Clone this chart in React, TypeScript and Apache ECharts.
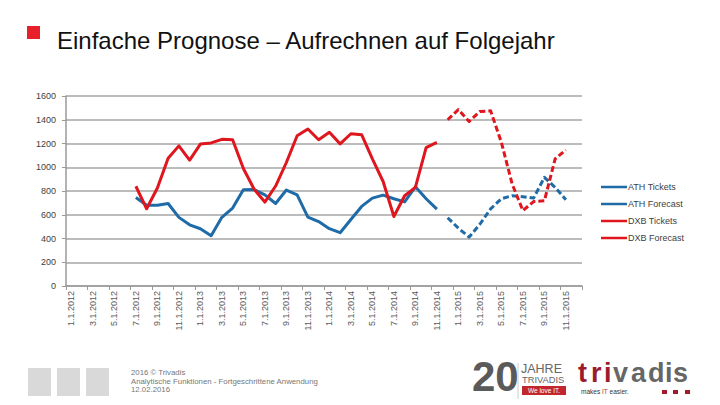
import React, { useEffect, useRef } from "react";
import * as echarts from "echarts";

const categories = [
  "1.1.2012","2.1.2012","3.1.2012","4.1.2012","5.1.2012","6.1.2012","7.1.2012","8.1.2012","9.1.2012","10.1.2012","11.1.2012","12.1.2012",
  "1.1.2013","2.1.2013","3.1.2013","4.1.2013","5.1.2013","6.1.2013","7.1.2013","8.1.2013","9.1.2013","10.1.2013","11.1.2013","12.1.2013",
  "1.1.2014","2.1.2014","3.1.2014","4.1.2014","5.1.2014","6.1.2014","7.1.2014","8.1.2014","9.1.2014","10.1.2014","11.1.2014","12.1.2014",
  "1.1.2015","2.1.2015","3.1.2015","4.1.2015","5.1.2015","6.1.2015","7.1.2015","8.1.2015","9.1.2015","10.1.2015","11.1.2015","12.1.2015",
];

const athTickets = [
  null, null, null, null, null, null, 745, 680, 680, 695, 578, 515,
  482, 423, 578, 656, 810, 812, 768, 695, 808, 768, 580, 543,
  483, 449, 560, 670, 740, 765, 735, 708, 835, 735, 647, null,
  null, null, null, null, null, null, null, null, null, null, null, null,
];

const athForecast = [
  null, null, null, null, null, null, null, null, null, null, null, null,
  null, null, null, null, null, null, null, null, null, null, null, null,
  null, null, null, null, null, null, null, null, null, null, null, 575,
  487, 412, 520, 650, 735, 760, 752, 740, 915, 830, 726, null,
];

const dxbTickets = [
  null, null, null, null, null, null, 840, 650, 825, 1075, 1180, 1060,
  1195, 1205, 1235, 1232, 990, 815, 707, 842, 1040, 1265, 1322, 1232,
  1294, 1197, 1282, 1274, 1070, 880, 585, 760, 830, 1165, 1210, null,
  null, null, null, null, null, null, null, null, null, null, null, null,
];

const dxbForecast = [
  null, null, null, null, null, null, null, null, null, null, null, null,
  null, null, null, null, null, null, null, null, null, null, null, null,
  null, null, null, null, null, null, null, null, null, null, null, 1400,
  1485, 1385, 1470, 1475, 1210, 860, 635, 711, 717, 1070, 1147, null,
];

const seriesNames = ["ATH Tickets", "ATH Forecast", "DXB Tickets", "DXB Forecast"];

const logoLetters = ["t", "r", "i", "v", "a", "d", "i", "s"];

const BLUE = "#1f6ba8";
const RED = "#e0161e";
const FONT = "'Liberation Sans', Arial, sans-serif";

export default function App() {
  const ref = useRef<HTMLDivElement>(null);

  useEffect(() => {
    if (!ref.current) return;
    const chart = echarts.init(ref.current, undefined, { renderer: "svg" });
    const mk = (name: string, data: (number | null)[], color: string, dashed: boolean) => ({
      name,
      type: "line",
      data,
      showSymbol: false,
      symbol: "none",
      connectNulls: false,
      itemStyle: { color },
      lineStyle: { color, width: 3, type: dashed ? [6, 3] : "solid", cap: "butt", join: "round" },
    });
    const letterX = [578, 591, 604, 613, 631, 648, 665, 673];
    const letterEls = logoLetters.map((ch, i) => ({
      type: "text",
      x: letterX[i],
      y: 386,
      style: {
        text: ch,
        fontSize: 27,
        fontWeight: "bold",
        fontFamily: FONT,
        fill: i < 3 ? "#9b1b2a" : "#666666",
        verticalAlign: "bottom",
      },
    }));
    chart.setOption({
      animation: false,
      backgroundColor: "#ffffff",
      textStyle: { fontFamily: FONT },
      grid: { left: 66, right: 138, top: 96, bottom: 119, containLabel: false },
      legend: {
        orient: "vertical",
        left: 596,
        top: 176,
        itemWidth: 26,
        itemHeight: 2.5,
        itemGap: 5,
        icon: "rect",
        data: seriesNames,
        textStyle: { fontSize: 9, color: "#404040", fontFamily: FONT, lineHeight: 12, padding: [0, 0, 0, -4] },
        selectedMode: false,
      },
      xAxis: {
        type: "category",
        data: categories,
        boundaryGap: true,
        axisLine: { lineStyle: { color: "#9a9a9a", width: 1.5 } },
        axisTick: { show: true, interval: 1, length: 4, lineStyle: { color: "#9a9a9a" } },
        axisLabel: { interval: 1, rotate: 90, fontSize: 9, color: "#595959", margin: 5, fontFamily: FONT },
        splitLine: { show: false },
      },
      yAxis: {
        type: "value",
        min: 0,
        max: 1600,
        interval: 200,
        axisLine: { show: true, lineStyle: { color: "#9a9a9a", width: 1.5 } },
        axisTick: { show: true, length: 4, lineStyle: { color: "#9a9a9a" } },
        axisLabel: { fontSize: 9, color: "#404040", margin: 10, fontFamily: FONT, formatter: (v: number) => String(v) },
        splitLine: { lineStyle: { color: "#a6a6a6", width: 1.5 } },
      },
      series: [
        mk(seriesNames[0], athTickets, BLUE, false),
        mk(seriesNames[1], athForecast, BLUE, true),
        mk(seriesNames[2], dxbTickets, RED, false),
        mk(seriesNames[3], dxbForecast, RED, true),
      ],
      graphic: [
        { type: "rect", shape: { x: 27, y: 26, width: 13, height: 13 }, style: { fill: "#e8202a" } },
        {
          type: "text", x: 57, y: 40,
          style: { text: "Einfache Prognose – Aufrechnen auf Folgejahr", fontSize: 24, fontFamily: FONT, fill: "#111111", verticalAlign: "middle" },
        },
        { type: "rect", shape: { x: 28, y: 368, width: 23, height: 28 }, style: { fill: "#d9d9d9" } },
        { type: "rect", shape: { x: 57, y: 368, width: 23, height: 28 }, style: { fill: "#d9d9d9" } },
        { type: "rect", shape: { x: 86, y: 368, width: 23, height: 28 }, style: { fill: "#d9d9d9" } },
        { type: "text", x: 131, y: 372, style: { text: "2016 © Trivadis", fontSize: 7.8, fontFamily: FONT, fill: "#777777", verticalAlign: "middle" } },
        { type: "text", x: 131, y: 381, style: { text: "Analytische Funktionen - Fortgeschrittene Anwendung", fontSize: 7.8, fontFamily: FONT, fill: "#777777", verticalAlign: "middle" } },
        { type: "text", x: 131, y: 389.5, style: { text: "12.02.2016", fontSize: 7.8, fontFamily: FONT, fill: "#777777", verticalAlign: "middle" } },
        {
          type: "text", x: 472, y: 397,
          style: { text: "20", fontSize: 42, fontWeight: "bold", fontFamily: "'Liberation Sans Narrow', 'Liberation Sans', Arial", fill: "#5a5a5a", verticalAlign: "bottom" },
        },
        { type: "line", shape: { x1: 518, y1: 363, x2: 518, y2: 399 }, style: { stroke: "#cccccc", lineWidth: 1 } },
        { type: "text", x: 521, y: 375, style: { text: "JAHRE", fontSize: 12.5, fontFamily: FONT, fill: "#666666", verticalAlign: "bottom" } },
        { type: "text", x: 522, y: 384, style: { text: "TRIVADIS", fontSize: 9.3, fontFamily: FONT, fill: "#666666", verticalAlign: "bottom" } },
        { type: "rect", shape: { x: 522, y: 386, width: 44, height: 9 }, style: { fill: "#c1272d" } },
        { type: "text", x: 544, y: 390.5, style: { text: "We love IT.", fontSize: 6.5, fontFamily: FONT, fill: "#ffffff", align: "center", verticalAlign: "middle" } },
        ...letterEls,
        {
          type: "text", x: 581, y: 391.5,
          style: {
            text: "{a|makes }{b|IT}{a| easier.}",
            verticalAlign: "middle",
            rich: {
              a: { fontSize: 6.5, fontFamily: FONT, fill: "#333333" },
              b: { fontSize: 6.5, fontFamily: FONT, fill: "#c1272d" },
            },
          },
        },
        { type: "rect", shape: { x: 662, y: 390, width: 5, height: 4 }, style: { fill: "#a01c2c" } },
        { type: "rect", shape: { x: 673, y: 390, width: 5, height: 4 }, style: { fill: "#a01c2c" } },
        { type: "rect", shape: { x: 685, y: 390, width: 5, height: 4 }, style: { fill: "#a01c2c" } },
      ],
    });
    return () => chart.dispose();
  }, []);

  return <div ref={ref} style={{ position: "fixed", left: 0, top: 0, width: 720, height: 405 }} />;
}
